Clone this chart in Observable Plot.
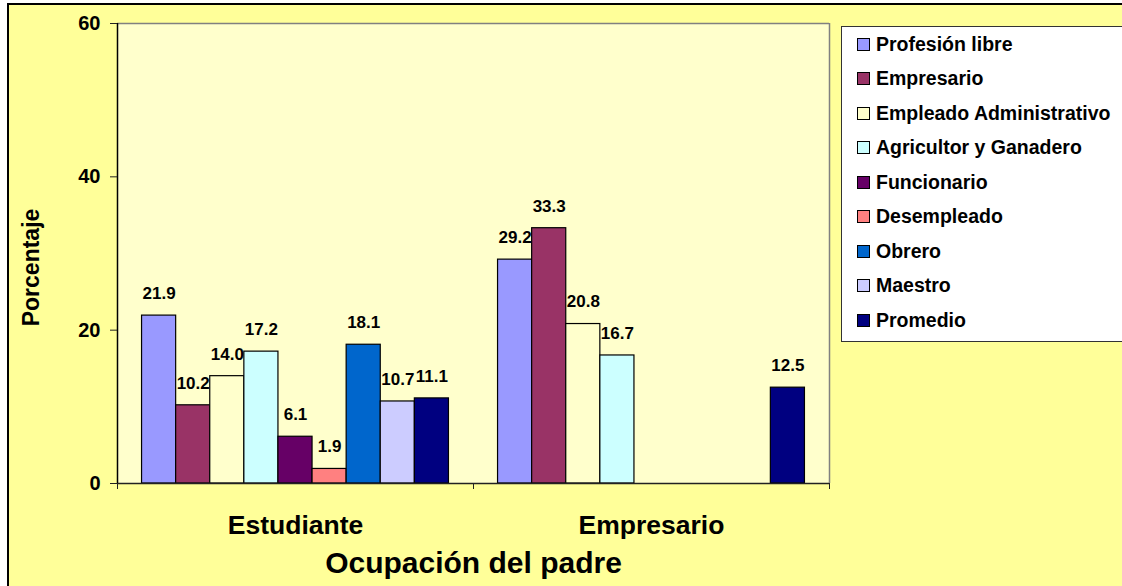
<!DOCTYPE html>
<html><head><meta charset="utf-8">
<script src="https://cdn.jsdelivr.net/npm/d3@7"></script>
<script src="https://cdn.jsdelivr.net/npm/@observablehq/plot@0.6"></script>
<style>
body{margin:0;background:#fff;font-family:"Liberation Sans",Arial,sans-serif;}
#chart{position:absolute;left:0;top:0;width:1122px;height:586px;overflow:hidden;}
#bg{position:absolute;left:7px;top:3px;width:1140px;height:620px;background:#FFFF99;border:2px solid #000;}
#plot{position:absolute;left:0;top:0;}
#legend{position:absolute;left:841px;top:26px;width:300px;height:314px;background:#fff;border:1px solid #333;}
.row{position:absolute;left:15px;height:22px;display:flex;align-items:center;font-weight:bold;font-size:19.5px;color:#000;white-space:nowrap;}
.sw{width:13px;height:13px;border:1px solid #000;margin-right:6px;box-sizing:border-box;}
</style></head>
<body>
<div id="chart"><div id="bg"></div><div id="plot"></div><div id="legend"></div></div>
<script>
const categories = ["Estudiante", "Empresario"];
const series = ["Profesión libre", "Empresario", "Empleado Administrativo", "Agricultor y Ganadero", "Funcionario", "Desempleado", "Obrero", "Maestro", "Promedio"];
const colors = ["#9999FF", "#993366", "#FFFFCC", "#CCFFFF", "#660066", "#FF8080", "#0066CC", "#CCCCFF", "#000080"];
const estudiante = [21.9, 10.2, 14.0, 17.2, 6.1, 1.9, 18.1, 10.7, 11.1];
const empresario = [29.2, 33.3, 20.8, 16.7, null, null, null, null, 12.5];
const yTicks = [0, 20, 40, 60];

const gapWidth = 1.44;
const w = 1 / (series.length + gapWidth);
const rows = [];
[estudiante, empresario].forEach((vals, g) => vals.forEach((v, s) => {
  if (v != null) rows.push({cat: categories[g], series: series[s], value: v,
    x1: g + gapWidth * w / 2 + s * w, x2: g + gapWidth * w / 2 + (s + 1) * w});
}));

const chart = Plot.plot({
  width: 1122, height: 586,
  marginLeft: 117, marginRight: 293, marginTop: 23, marginBottom: 103,
  style: {background: "transparent", fontFamily: "Liberation Sans, Arial, sans-serif", overflow: "visible"},
  x: {domain: [0, 2]},
  y: {domain: [0, 60]},
  color: {domain: series, range: colors},
  marks: [
    Plot.frame({fill: "#FFFFCC", stroke: null}),
    Plot.ruleY([60], {stroke: "#808080", strokeWidth: 1.5}),
    Plot.ruleX([2], {stroke: "#808080", strokeWidth: 1.5}),
    Plot.rect(rows, {x1: "x1", x2: "x2", y1: 0, y2: "value", fill: "series", stroke: "#000", strokeWidth: 1.2}),
    Plot.ruleY([0], {stroke: "#222", strokeWidth: 1.5}),
    Plot.ruleX([0], {stroke: "#000", strokeWidth: 1.5}),
    Plot.axisY(yTicks, {anchor: "left", tickSize: 7, tickPadding: 10, fontSize: 20, fontWeight: "bold", label: null, stroke: "#222"}),
    Plot.axisX([0, 1, 2], {anchor: "bottom", tickSize: 6, tickFormat: () => "", label: null, stroke: "#222"}),
    Plot.axisX([0.5, 1.5], {anchor: "bottom", tickSize: 0, tickPadding: 32, tickFormat: d => categories[Math.floor(d)], fontSize: 26.5, fontWeight: "bold", label: null}),
    Plot.text(rows, {x: d => (d.x1 + d.x2) / 2, y: "value", text: d => d.value.toFixed(1), dy: -22, fontSize: 17, fontWeight: "bold", fill: "#000"}),
    Plot.text(["Porcentaje"], {frameAnchor: "left", textAnchor: "middle", lineAnchor: "middle", dx: -86, dy: 14, rotate: -90, fontSize: 23, fontWeight: "bold", fill: "#000"}),
    Plot.text(["Ocupación del padre"], {frameAnchor: "bottom", textAnchor: "middle", lineAnchor: "middle", dy: 80, fontSize: 30, fontWeight: "bold", fill: "#000"})
  ]
});
document.getElementById("plot").appendChild(chart);

const legend = document.getElementById("legend");
series.forEach((s, i) => {
  const r = document.createElement("div");
  r.className = "row";
  r.style.top = (6 + i * 34.5) + "px";
  const sw = document.createElement("div");
  sw.className = "sw";
  sw.style.background = colors[i];
  r.appendChild(sw);
  const t = document.createElement("span");
  t.textContent = s;
  r.appendChild(t);
  legend.appendChild(r);
});
</script>
</body></html>
